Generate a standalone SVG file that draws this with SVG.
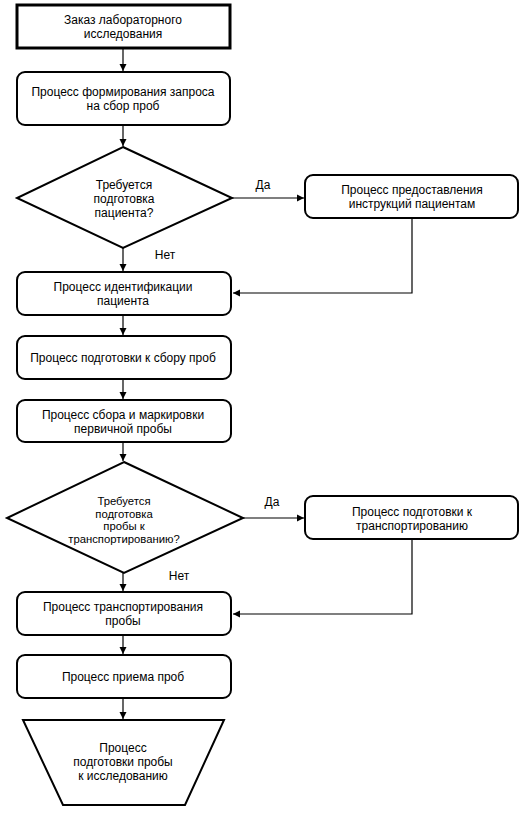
<svg xmlns="http://www.w3.org/2000/svg" width="525" height="813" viewBox="0 0 525 813">
<style>
.n{fill:#fff;stroke:#000;stroke-width:2}
.t{font-family:"Liberation Sans",Arial,sans-serif;font-size:12px;fill:#000;text-anchor:middle}
.s{font-size:11.3px}
.c{fill:none;stroke:#000;stroke-width:1.2}
</style>
<defs>
<marker id="a" markerWidth="8" markerHeight="8" refX="7" refY="4" orient="auto" markerUnits="userSpaceOnUse">
<path d="M0,0.5 L7,4 L0,7.5 z" fill="#000"/>
</marker>
</defs>
<rect width="525" height="813" fill="#fff"/>
<g id="connectors">
<line class="c" x1="123" y1="49" x2="123" y2="71" marker-end="url(#a)"/>
<line class="c" x1="123" y1="125" x2="123" y2="146" marker-end="url(#a)"/>
<line class="c" x1="123" y1="248" x2="123" y2="271" marker-end="url(#a)"/>
<line class="c" x1="232" y1="198" x2="304" y2="198" marker-end="url(#a)"/>
<polyline class="c" points="412,218 412,293 233,293" marker-end="url(#a)"/>
<line class="c" x1="123" y1="315" x2="123" y2="335" marker-end="url(#a)"/>
<line class="c" x1="123" y1="379" x2="123" y2="399" marker-end="url(#a)"/>
<line class="c" x1="123" y1="442" x2="123" y2="461" marker-end="url(#a)"/>
<line class="c" x1="123" y1="573" x2="123" y2="591" marker-end="url(#a)"/>
<line class="c" x1="243" y1="518" x2="304" y2="518" marker-end="url(#a)"/>
<polyline class="c" points="412,539 412,614 233,614" marker-end="url(#a)"/>
<line class="c" x1="123" y1="635" x2="123" y2="654" marker-end="url(#a)"/>
<line class="c" x1="123" y1="698" x2="123" y2="719" marker-end="url(#a)"/>
<text class="t" x="263" y="189">Да</text>
<text class="t" x="165" y="259">Нет</text>
<text class="t" x="272" y="506">Да</text>
<text class="t" x="179" y="580">Нет</text>
</g>
<g id="n1">
<rect x="17" y="5" width="213" height="43" fill="#fff" stroke="#000" stroke-width="3"/>
<text class="t" x="123" y="24">Заказ лабораторного</text>
<text class="t" x="123" y="38">исследования</text>
</g>
<g id="n2">
<rect class="n" x="17" y="72" width="213" height="53" rx="8"/>
<text class="t" x="123" y="96">Процесс формирования запроса</text>
<text class="t" x="123" y="110">на сбор проб</text>
</g>
<g id="d1">
<polygon class="n" points="123,147 232,198 123,248 17,198"/>
<text class="t" x="124" y="189">Требуется</text>
<text class="t" x="124" y="203">подготовка</text>
<text class="t" x="124" y="217">пациента?</text>
</g>
<g id="r1">
<rect class="n" x="305" y="175" width="213" height="43" rx="8"/>
<text class="t" x="412" y="194">Процесс предоставления</text>
<text class="t" x="412" y="208">инструкций пациентам</text>
</g>
<g id="n3">
<rect class="n" x="17" y="272" width="214" height="43" rx="8"/>
<text class="t" x="123" y="291">Процесс идентификации</text>
<text class="t" x="123" y="305">пациента</text>
</g>
<g id="n4">
<rect class="n" x="17" y="336" width="214" height="43" rx="8"/>
<text class="t" x="123" y="362">Процесс подготовки к сбору проб</text>
</g>
<g id="n5">
<rect class="n" x="17" y="400" width="214" height="42" rx="8"/>
<text class="t" x="123" y="419">Процесс сбора и маркировки</text>
<text class="t" x="123" y="433">первичной пробы</text>
</g>
<g id="d2">
<polygon class="n" points="124,462 243,518 124,573 7,518"/>
<text class="t s" x="124" y="505">Требуется</text>
<text class="t s" x="124" y="517.5">подготовка</text>
<text class="t s" x="124" y="530">пробы к</text>
<text class="t s" x="124" y="542.5">транспортированию?</text>
</g>
<g id="r2">
<rect class="n" x="305" y="496" width="213" height="43" rx="8"/>
<text class="t" x="412" y="516">Процесс подготовки к</text>
<text class="t" x="412" y="530">транспортированию</text>
</g>
<g id="n6">
<rect class="n" x="17" y="592" width="214" height="43" rx="8"/>
<text class="t" x="123" y="611">Процесс транспортирования</text>
<text class="t" x="123" y="625">пробы</text>
</g>
<g id="n7">
<rect class="n" x="17" y="655" width="214" height="43" rx="8"/>
<text class="t" x="123" y="681">Процесс приема проб</text>
</g>
<g id="n8">
<polygon class="n" points="23,720 224,720 185,805 63,805"/>
<text class="t" x="123" y="752">Процесс</text>
<text class="t" x="123" y="766">подготовки пробы</text>
<text class="t" x="123" y="780">к исследованию</text>
</g>
</svg>
